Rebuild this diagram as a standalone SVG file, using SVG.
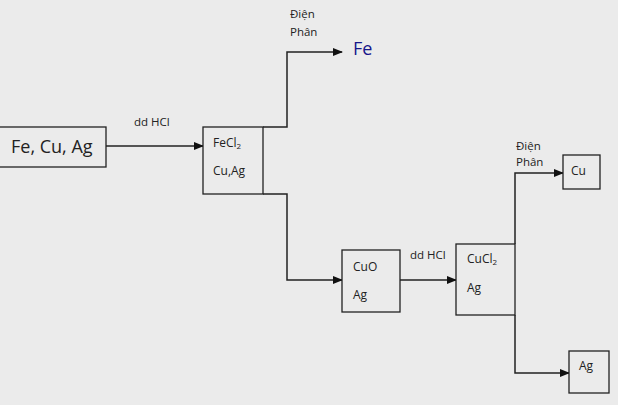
<svg xmlns="http://www.w3.org/2000/svg" width="618" height="405" viewBox="0 0 618 405">
<defs>
<marker id="ah" markerWidth="10" markerHeight="8" refX="9" refY="4" orient="auto" markerUnits="userSpaceOnUse">
<path d="M0,0 L10,4 L0,8 z" fill="#111"/>
</marker>
<style>
.box{fill:#ebebeb;stroke:#222;stroke-width:1.3}
.ln{fill:none;stroke:#222;stroke-width:1.5}
.t{font-family:"Open Sans","Liberation Sans",sans-serif;fill:#222}
.s{font-size:11.5px}
.m{font-size:12px}
</style>
</defs>
<rect width="618" height="405" fill="#ebebeb"/>
<g id="connectors">
<path class="ln" d="M106,146 H203" marker-end="url(#ah)"/>
<path class="ln" d="M263,127 H287 V52 H342" marker-end="url(#ah)"/>
<path class="ln" d="M263,194 H287 V280 H342" marker-end="url(#ah)"/>
<path class="ln" d="M400,280 H456" marker-end="url(#ah)"/>
<path class="ln" d="M515,244 V173 H563" marker-end="url(#ah)"/>
<path class="ln" d="M515,315 V373 H569" marker-end="url(#ah)"/>
<text class="t s" x="134" y="126">dd HCl</text>
<text class="t s" x="410" y="259">dd HCl</text>
<text class="t s" x="290" y="18">Điện</text>
<text class="t s" x="290" y="36">Phân</text>
<text class="t s" x="516" y="150">Điện</text>
<text class="t s" x="516" y="166">Phân</text>
</g>
<g id="n-start">
<rect class="box" x="-2" y="127" width="108" height="40"/>
<text class="t" x="11" y="153" font-size="18">Fe, Cu, Ag</text>
</g>
<g id="n-fecl2">
<rect class="box" x="203" y="127" width="60" height="67"/>
<text class="t m" x="213" y="147">FeCl<tspan font-size="8" dy="2">2</tspan></text>
<text class="t m" x="213" y="175">Cu,Ag</text>
</g>
<g id="n-fe">
<text x="353" y="55" font-size="18" font-family="Open Sans, Liberation Sans, sans-serif" fill="#16168a">Fe</text>
</g>
<g id="n-cuo">
<rect class="box" x="342" y="250" width="58" height="62"/>
<text class="t m" x="353" y="271">CuO</text>
<text class="t m" x="353" y="299">Ag</text>
</g>
<g id="n-cucl2">
<rect class="box" x="456" y="244" width="59" height="71"/>
<text class="t m" x="467" y="263">CuCl<tspan font-size="8" dy="2">2</tspan></text>
<text class="t m" x="467" y="292">Ag</text>
</g>
<g id="n-cu">
<rect class="box" x="563" y="155" width="37" height="34"/>
<text class="t m" x="571" y="175">Cu</text>
</g>
<g id="n-ag">
<rect class="box" x="569" y="351" width="40" height="42"/>
<text class="t m" x="579" y="370">Ag</text>
</g>
</svg>
